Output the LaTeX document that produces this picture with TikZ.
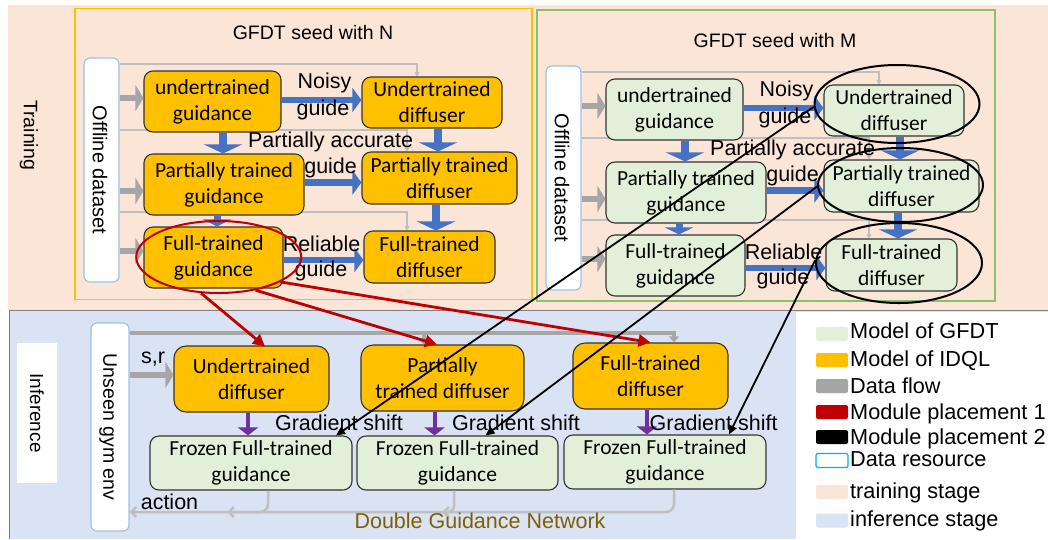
\documentclass[tikz,border=0pt]{standalone}
\usepackage{fontspec}
\setmainfont{Liberation Sans}
\newfontfamily\carl{Carlito}
\usetikzlibrary{arrows.meta,shapes.geometric}

\definecolor{peach}{HTML}{FBE5D6}
\definecolor{infblue}{HTML}{DAE3F3}
\definecolor{idqlorange}{HTML}{FFC000}
\definecolor{gfdtgreen}{HTML}{E2F0D9}
\definecolor{framegreen}{HTML}{8CC068}
\definecolor{arrowblue}{HTML}{4472C4}
\definecolor{flowgray}{HTML}{A6A6A6}
\definecolor{linegray}{HTML}{BFBFBF}
\definecolor{modred}{HTML}{C00000}
\definecolor{gradpurple}{HTML}{7030A0}
\definecolor{dgnolive}{HTML}{7F6000}
\definecolor{srcblue}{HTML}{9DC3E6}
\definecolor{legsrc}{HTML}{00B0F0}
\definecolor{edgedark}{HTML}{333333}
\definecolor{infborder}{HTML}{7F7F7F}

\pgfdeclarelayer{canvas}
\pgfdeclarelayer{flow}
\pgfsetlayers{canvas,flow,main}

\tikzset{
  box/.style={draw=edgedark, line width=1.1pt, rounded corners=9pt, inner sep=0pt,
    align=center, text=black, font=\carl\fontsize{21.5}{26}\selectfont},
  idql/.style={box, fill=idqlorange},
  gfdt/.style={box, fill=gfdtgreen},
  datasrc/.style={draw=srcblue, fill=white, line width=1.2pt, rounded corners=6pt, inner sep=0pt},
  lbl/.style={font=\fontsize{21.5}{26}\selectfont, inner sep=0pt, anchor=base},
  ttl/.style={font=\fontsize{19.5}{24}\selectfont, inner sep=0pt, anchor=base},
  vlbl/.style={font=\fontsize{20}{24}\selectfont, inner sep=0pt, rotate=-90},
  legtext/.style={font=\fontsize{21.7}{25}\selectfont, inner sep=0pt, anchor=base west},
  swatch/.style={minimum width=32pt, minimum height=14pt, inner sep=0pt, rounded corners=2pt},
  guideh/.style={draw=arrowblue, line width=6.5pt, -{Triangle[width=24pt,length=9pt]}},
  guidev/.style={draw=arrowblue, line width=7.5pt, -{Triangle[width=38pt,length=9pt]}},
  guidevs/.style={draw=arrowblue, line width=7pt, -{Triangle[width=28pt,length=7pt]}},
  feed/.style={draw=flowgray, line width=6.5pt, -{Triangle[width=26pt,length=8pt]}},
  thinflow/.style={draw=linegray, line width=1.5pt, -{Triangle[width=5pt,length=4pt]}},
  topflow/.style={draw=flowgray, line width=4pt, -{Triangle[width=10pt,length=6pt]}},
  actflow/.style={draw=linegray, line width=2.5pt, -{Straight Barb[width=10pt,length=5pt]}},
  shiftarrow/.style={draw=gradpurple, line width=4pt, -{Triangle[width=20pt,length=8pt]}},
  place1/.style={draw=modred, line width=2.8pt, -{Triangle[width=12pt,length=12pt]}},
  place2/.style={draw=black, line width=1.8pt, -{Triangle[width=8pt,length=9pt]}},
  ring/.style={ellipse, draw=black, line width=2pt, inner sep=0pt}
}

% One training block: data source, three guidance models, three diffusers
% #1 name suffix, #2 model style, #3 seed letter
\newcommand\seedframe[3]{%
  \node[ttl] (title#1) at (313,39.5) {GFDT seed with #3};
  \node[datasrc, minimum width=35pt, minimum height=224pt] (ds#1) at (101.5,170) {};
  \node[vlbl] (dstext#1) at (100,170) {Offline dataset};
  \node[#2, minimum width=137pt, minimum height=61pt] (uG#1) at (212.5,101.5) {undertrained\\guidance};
  \node[#2, minimum width=140pt, minimum height=51pt] (uD#1) at (432,102.5) {Undertrained\\diffuser};
  \node[#2, minimum width=160pt, minimum height=61pt] (pG#1) at (224,184.5) {Partially trained\\guidance};
  \node[#2, minimum width=155pt, minimum height=52pt] (pD#1) at (439.5,178) {Partially trained\\diffuser};
  \node[#2, minimum width=139pt, minimum height=61pt] (fG#1) at (213.5,257.5) {Full-trained\\guidance};
  \node[#2, minimum width=131pt, minimum height=52pt] (fD#1) at (429.5,257) {Full-trained\\diffuser};
  % data taps running to the diffusers
  \begin{pgfonlayer}{flow}
    \draw[thinflow] (ds#1.east |- 0,64) -| ([xshift=-15pt]uD#1.north);
    \draw[thinflow] (ds#1.east |- 0,130) -| ([xshift=-32.5pt]pD#1.north);
    \draw[thinflow] (ds#1.east |- 0,212) -| ([xshift=-22.5pt]fD#1.north);
  \end{pgfonlayer}
  % data into the guidance models
  \draw[feed] (ds#1.east |- 0,98) -- (uG#1.west |- 0,98);
  \draw[feed] (ds#1.east |- 0,191) -- (pG#1.west |- 0,191);
  \draw[feed] (ds#1.east |- 0,251) -- (fG#1.west |- 0,251);
  % guidance to diffuser
  \draw[guideh] ([yshift=1.5pt]uG#1.east) coordinate (h1#1) -- (h1#1 -| uD#1.west);
  \draw[guideh] ([yshift=2pt]pG#1.east) coordinate (h2#1) -- (h2#1 -| pD#1.west);
  \draw[guideh] ([yshift=-2.5pt]fG#1.east) coordinate (h3#1) -- (h3#1 -| fD#1.west);
  % training progress
  \draw[guidev] ([xshift=10.5pt]uG#1.south) coordinate (v1#1) -- (v1#1 |- pG#1.north);
  \draw[guidevs] ([xshift=-7pt]pG#1.south) coordinate (v2#1) -- (v2#1 |- fG#1.north);
  \draw[guidev] ([xshift=6pt]uD#1.south) coordinate (v3#1) -- (v3#1 |- pD#1.north);
  \draw[guidev] ([xshift=-3.5pt]pD#1.south) coordinate (v4#1) -- (v4#1 |- fD#1.north);
  % guide quality labels
  \node[lbl] (noisy#1) at (324.5,88) {Noisy};
  \node[lbl] (guideA#1) at (323,115) {guide};
  \node[lbl] (pacc#1) at (330.6,147.5) {Partially accurate};
  \node[lbl] (guideB#1) at (330.6,173) {guide};
  \node[lbl] (rel#1) at (321.6,251.7) {Reliable};
  \node[lbl] (guideC#1) at (321,276.5) {guide};
}

\begin{document}
\begin{tikzpicture}[x=1pt, y=-1pt]
\useasboundingbox (0,0) rectangle (1048,539);

% stage backgrounds
\begin{pgfonlayer}{canvas}
  \fill[white] (0,0) rectangle (1048,539);
  \fill[peach] (8,5) rectangle (1048,310);
  \fill[infblue] (9,310) rectangle (1048,539);
  \draw[infborder, line width=1pt] (1048,310.5) -- (9.5,310.5) -- (9.5,539);
  \fill[white] (796,312) rectangle (1048,539);
  \draw[idqlorange, line width=1.2pt] (75,8.3) rectangle (532,299.3);
  \draw[framegreen, line width=1.2pt] (537,10) rectangle (995,301);
\end{pgfonlayer}

\node[vlbl, font=\fontsize{19.5}{24}\selectfont] (trainlabel) at (29,135) {Training};
\node[fill=white, rotate=-90, minimum width=140pt, minimum height=40pt, inner sep=0pt,
      font=\fontsize{19}{24}\selectfont] (inflabel) at (37,413) {Inference};

% training blocks
\seedframe{N}{idql}{N}
\begin{scope}[shift={(462,8)}]
  \seedframe{M}{gfdt}{M}
\end{scope}

% inference stage
\node[datasrc, minimum width=38pt, minimum height=208pt] (env) at (110,427) {};
\node[vlbl, font=\fontsize{19.5}{24}\selectfont] (envtext) at (108,427) {Unseen gym env};
\node[idql, rounded corners=12pt, minimum width=155pt, minimum height=66pt] (infU) at (251.5,379) {Undertrained\\diffuser};
\node[idql, rounded corners=12pt, minimum width=163pt, minimum height=66pt] (infP) at (442.5,378) {Partially\\trained diffuser};
\node[idql, rounded corners=12pt, minimum width=155pt, minimum height=66pt] (infF) at (650.5,376) {Full-trained\\diffuser};
\node[gfdt, minimum width=202pt, minimum height=54pt] (fg1) at (251,463) {Frozen Full-trained\\guidance};
\node[gfdt, minimum width=201pt, minimum height=54pt] (fg2) at (457.5,463) {Frozen Full-trained\\guidance};
\node[gfdt, minimum width=202pt, minimum height=54pt] (fg3) at (665,462) {Frozen Full-trained\\guidance};

% state/reward feed
\draw[feed] (env.east |- 0,375) -- (infU.west |- 0,375);
\node[lbl] (sr) at (153,363.3) {s,r};
\draw[topflow] (env.east |- 0,332.5) -| ([xshift=23.5pt]infF.north);
\coordinate (pdrop) at ([xshift=-19pt]infP.north);
\draw[topflow] (pdrop |- 0,332.5) -- (pdrop);

% gradient shift
\draw[shiftarrow] ([xshift=-3.5pt]infU.south) coordinate (s1) -- (s1 |- fg1.north);
\draw[shiftarrow] ([xshift=-8pt]infP.south) coordinate (s2) -- (s2 |- fg2.north);
\draw[shiftarrow] ([xshift=-3.5pt]infF.south) coordinate (s3) -- (s3 |- fg3.north);
\node[lbl] (gs1) at (339,430) {Gradient shift};
\node[lbl] (gs2) at (516,430) {Gradient shift};
\node[lbl] (gs3) at (713.6,430.7) {Gradient shift};

% actions back to the environment
\coordinate (a1) at ([xshift=17pt]fg1.south);
\coordinate (a1end) at (227,512);
\coordinate (a2) at ([xshift=-3.5pt]fg2.south);
\coordinate (a2end) at (442,512);
\coordinate (a3) at ([xshift=9pt]fg3.south);
\draw[actflow, rounded corners=8pt] (a3) |- (env.east |- 0,512);
\draw[actflow, rounded corners=8pt] (a1) |- (a1end);
\draw[actflow, rounded corners=6pt] (a2) |- (a2end);
\node[lbl] (action) at (169.5,509.3) {action};
\node[lbl, text=dgnolive] (dgn) at (480,528.3) {Double Guidance Network};

% module placements
\node[ellipse, draw=modred, line width=2pt, inner sep=0pt, minimum width=165pt, minimum height=72pt] (redring) at (218.7,257) {};
\node[ring, minimum width=165pt, minimum height=78pt] (ring1) at (897,104) {};
\node[ring, minimum width=165pt, minimum height=74pt] (ring2) at (900.5,185) {};
\node[ring, minimum width=166pt, minimum height=80pt] (ring3) at (899,263) {};

\draw[place1] (redring.244) -- ([xshift=13.5pt,yshift=-1pt]infU.north);
\draw[place1] (redring.318) -- ([xshift=-5.5pt]infP.north);
\draw[place1] (redring.338) -- (infF.north);

\draw[place2] (ring1.182) -- ([xshift=85pt]fg1.north);
\draw[place2] (ring2.181) -- ([xshift=28pt]fg2.north);
\draw[place2] (ring3.178) -- ([xshift=64pt]fg3.north);

% legend
\node[swatch, fill=gfdtgreen] (lg1) at (832,334) {};
\node[legtext] (lt1) at (850,338.5) {Model of GFDT};
\node[swatch, fill=idqlorange] (lg2) at (832,360) {};
\node[legtext] (lt2) at (850,366) {Model of IDQL};
\node[swatch, fill=flowgray] (lg3) at (832,386) {};
\node[legtext] (lt3) at (850,393) {Data flow};
\node[swatch, fill=modred] (lg4) at (832,412) {};
\node[legtext] (lt4) at (850,419) {Module placement 1};
\node[swatch, fill=black] (lg5) at (832,437) {};
\node[legtext] (lt5) at (850,444) {Module placement 2};
\node[swatch, fill=white, draw=legsrc, line width=1.2pt] (lg6) at (832,460.5) {};
\node[legtext] (lt6) at (850,466.7) {Data resource};
\node[swatch, fill=peach] (lg7) at (832,492) {};
\node[legtext] (lt7) at (850,498.3) {training stage};
\node[swatch, fill=infblue] (lg8) at (832,520.5) {};
\node[legtext] (lt8) at (850,526.7) {inference stage};
\end{tikzpicture}
\end{document}
